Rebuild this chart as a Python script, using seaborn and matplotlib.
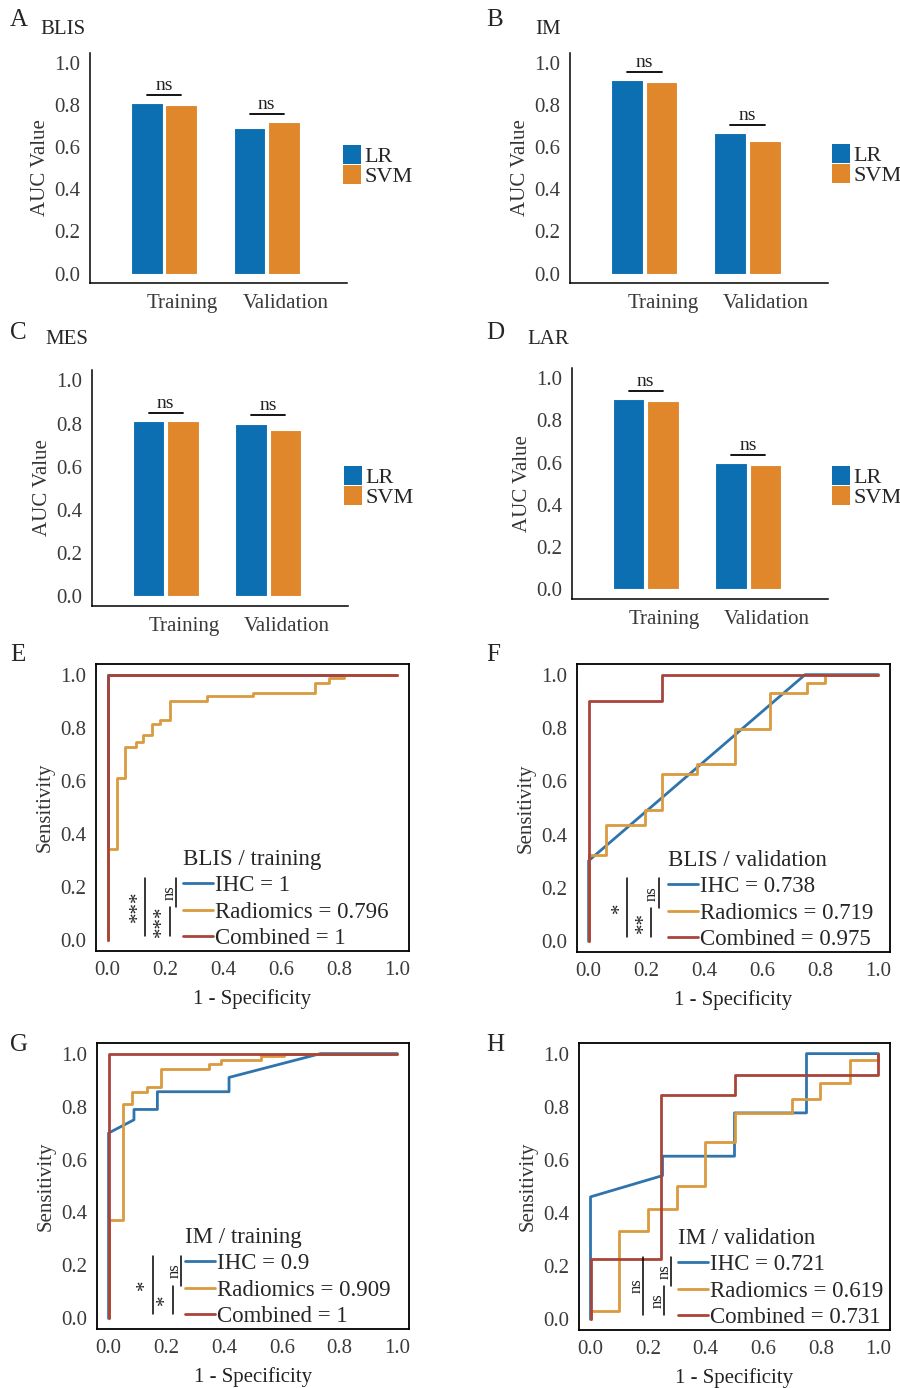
import numpy as np
import pandas as pd
import matplotlib
matplotlib.use("Agg")
import matplotlib.pyplot as plt
from matplotlib.patches import Patch
import seaborn as sns

# ---------------- data ----------------
sets = ["Training", "Validation"]
models = ["LR", "SVM"]

# AUC values of the bar panels (Training, Validation)
blis_lr, blis_svm = [0.81, 0.69], [0.80, 0.72]
im_lr, im_svm = [0.92, 0.67], [0.91, 0.63]
mes_lr, mes_svm = [0.81, 0.80], [0.81, 0.77]
lar_lr, lar_svm = [0.90, 0.60], [0.89, 0.59]

# ROC curves (1 - specificity, sensitivity)
roc_names = ["IHC", "Radiomics", "Combined"]

# E  BLIS / training
e_ihc_fpr, e_ihc_tpr = [0, 0, 1], [0, 1, 1]
e_rad_fpr = [0, 0, 0.032, 0.032, 0.059, 0.059, 0.099, 0.099, 0.122, 0.122, 0.152, 0.152,
             0.182, 0.182, 0.217, 0.217, 0.342, 0.342, 0.503, 0.503, 0.714, 0.714,
             0.763, 0.763, 0.815, 0.815, 1.0]
e_rad_tpr = [0, 0.344, 0.344, 0.611, 0.611, 0.727, 0.727, 0.745, 0.745, 0.774, 0.774, 0.813,
             0.813, 0.83, 0.83, 0.902, 0.902, 0.918, 0.918, 0.932, 0.932, 0.97,
             0.97, 0.986, 0.986, 1.0, 1.0]
e_comb_fpr, e_comb_tpr = [0, 0, 1], [0, 1, 1]
e_auc = ["1", "0.796", "1"]

# F  BLIS / validation
f_ihc_fpr, f_ihc_tpr = [0, 0, 0.747, 1], [0, 0.302, 1, 1]
f_rad_fpr = [0, 0, 0.06, 0.06, 0.195, 0.195, 0.252, 0.252, 0.375, 0.375, 0.505, 0.505,
             0.626, 0.626, 0.755, 0.755, 0.814, 0.814, 1.0]
f_rad_tpr = [0, 0.323, 0.323, 0.436, 0.436, 0.492, 0.492, 0.626, 0.626, 0.665, 0.665, 0.798,
             0.798, 0.93, 0.93, 0.967, 0.967, 1.0, 1.0]
f_comb_fpr, f_comb_tpr = [0, 0, 0.252, 0.252, 1], [0, 0.902, 0.902, 1, 1]
f_auc = ["0.738", "0.719", "0.975"]

# G  IM / training
g_ihc_fpr = [0, 0, 0.088, 0.088, 0.169, 0.169, 0.417, 0.417, 0.734, 1]
g_ihc_tpr = [0, 0.70, 0.75, 0.789, 0.789, 0.856, 0.856, 0.91, 1.0, 1.0]
g_rad_fpr = [0, 0, 0.051, 0.051, 0.082, 0.082, 0.134, 0.134, 0.18, 0.18, 0.348, 0.348,
             0.388, 0.388, 0.527, 0.527, 0.607, 0.607, 1.0]
g_rad_tpr = [0, 0.371, 0.371, 0.81, 0.81, 0.856, 0.856, 0.875, 0.875, 0.94, 0.94, 0.962,
             0.962, 0.975, 0.975, 0.99, 0.99, 1.0, 1.0]
g_comb_fpr, g_comb_tpr = [0, 0, 1], [0, 1, 1]
g_auc = ["0.9", "0.909", "1"]

# H  IM / validation
h_ihc_fpr = [0, 0, 0.25, 0.25, 0.5, 0.5, 0.75, 0.75, 1.0]
h_ihc_tpr = [0, 0.461, 0.541, 0.614, 0.614, 0.777, 0.777, 1.0, 1.0]
h_rad_fpr = [0, 0, 0.099, 0.099, 0.198, 0.198, 0.302, 0.302, 0.399, 0.399, 0.5, 0.5,
             0.698, 0.698, 0.797, 0.797, 0.901, 0.901, 1.0, 1.0]
h_rad_tpr = [0, 0.031, 0.031, 0.333, 0.333, 0.416, 0.416, 0.501, 0.501, 0.668, 0.668, 0.777,
             0.777, 0.83, 0.83, 0.89, 0.89, 0.975, 0.975, 1.0]
h_comb_fpr = [0, 0, 0.245, 0.245, 0.5, 0.5, 1.0, 1.0]
h_comb_tpr = [0, 0.229, 0.229, 0.846, 0.846, 0.921, 0.921, 1.0]
h_auc = ["0.721", "0.619", "0.731"]

# significance labels: IHC-Combined, Radiomics-Combined, IHC-Radiomics
e_sig = ["***", "***", "ns"]
f_sig = ["*", "**", "ns"]
g_sig = ["*", "*", "ns"]
h_sig = ["ns", "ns", "ns"]

# ---------------- style ----------------
sns.set_theme(style="white")
plt.rcParams["font.family"] = ["Liberation Serif", "DejaVu Serif"]
plt.rcParams["axes.linewidth"] = 1.1

bar_colors = {"LR": "#0B6FB2", "SVM": "#E0862B"}
roc_colors = {"IHC": "#2F74AD", "Radiomics": "#D99B3E", "Combined": "#A8443A"}
tick_col = "#3a3a3a"

W, H = 900, 1388
fig = plt.figure(figsize=(W / 100, H / 100), dpi=100)


def add_ax(l, t, r, b):
    return fig.add_axes([l / W, 1 - b / H, (r - l) / W, (b - t) / H])


def tag(x, y, letter, sub=None, sx=None, sy=None):
    fig.text(x / W, 1 - y / H, letter, fontsize=18, va="center", ha="left")
    if sub:
        fig.text(sx / W, 1 - sy / H, sub, fontsize=15, va="center", ha="left")


def bar_panel(box, lr, svm, leg_xy):
    ax = add_ax(*box)
    df = pd.DataFrame({"set": sets * 2,
                       "model": ["LR"] * len(sets) + ["SVM"] * len(sets),
                       "auc": lr + svm})
    sns.barplot(data=df, x="set", y="auc", hue="model", palette=bar_colors,
                saturation=1, width=0.67, gap=0.08, edgecolor="white", linewidth=0.8,
                legend=False, ax=ax)
    ax.set_ylim(-0.045, 1.048)
    ax.set_xlim(-0.72, 1.78)
    ax.set_yticks(np.arange(0, 1.01, 0.2))
    ax.set_yticklabels([f"{v:.1f}" for v in np.arange(0, 1.01, 0.2)])
    ax.set_xticks([i + 0.18 for i in range(len(sets))], sets)
    ax.tick_params(axis="both", length=4, width=1, color="black",
                   labelsize=15, labelcolor=tick_col, pad=3)
    ax.tick_params(axis="x", pad=4)
    for s in ["top", "right"]:
        ax.spines[s].set_visible(False)
    for s in ["left", "bottom"]:
        ax.spines[s].set_color("black")
    ax.set_xlabel("")
    ax.set_ylabel("AUC Value", fontsize=15, color="#333333", labelpad=3)
    # ns brackets between the two bars of each group
    for i in range(len(sets)):
        x0 = ax.containers[0][i].get_x() + ax.containers[0][i].get_width() / 2
        x1 = ax.containers[1][i].get_x() + ax.containers[1][i].get_width() / 2
        y = max(lr[i], svm[i]) + 0.038
        ax.plot([x0, x1], [y, y], color="black", lw=1.3)
        ax.text((x0 + x1) / 2, y + 0.004, "ns", ha="center", va="bottom",
                fontsize=14, color="#222222")
    handles = [Patch(facecolor=bar_colors[m], edgecolor="none") for m in models]
    ax.legend(handles, models, loc="upper left",
              bbox_to_anchor=(leg_xy[0] / W, 1 - leg_xy[1] / H),
              bbox_transform=fig.transFigure, frameon=False, borderpad=0,
              handlelength=0.82, handleheight=0.95, handletextpad=0.15,
              labelspacing=-0.12, fontsize=16)
    return ax


def roc_panel(box, curves, aucs, title, sig, sig_x, leg_x):
    ax = add_ax(*box)
    for name, (fpr, tpr) in zip(roc_names, curves):
        sns.lineplot(x=fpr, y=tpr, sort=False, estimator=None, color=roc_colors[name],
                     lw=2.0, ax=ax, label=f"{name} = {aucs[roc_names.index(name)]}")
    ax.set_xlim(-0.04, 1.04)
    ax.set_ylim(-0.04, 1.04)
    ticks = np.arange(0, 1.01, 0.2)
    ax.set_xticks(ticks, [f"{v:.1f}" for v in ticks])
    ax.set_yticks(ticks, [f"{v:.1f}" for v in ticks])
    ax.tick_params(axis="both", length=4, width=1, color="black",
                   labelsize=15, labelcolor=tick_col, pad=3)
    for s in ax.spines.values():
        s.set_color("black")
        s.set_linewidth(1.3)
    ax.set_xlabel("1 - Specificity", fontsize=15, color="#222222", labelpad=7)
    ax.set_ylabel("Sensitivity", fontsize=15, color="#333333", labelpad=4)
    ax.legend(title=title, loc="lower left", bbox_to_anchor=(leg_x, 0.006),
              frameon=False, borderpad=0, borderaxespad=0, fontsize=16.5,
              title_fontsize=16.5, handlelength=1.3, handletextpad=0.1,
              labelspacing=0.24, alignment="left")
    # significance brackets next to the legend rows
    top, mid, bot = 0.256, 0.152, 0.053
    spans = [(top, bot), (mid, bot), (top, mid)]
    for lab, (lx, tx), (y0, y1) in zip(sig, sig_x, spans):
        ax.plot([lx, lx], [y0, y1], transform=ax.transAxes, color="black", lw=1.1)
        fs = 12 if lab == "ns" else 15
        ax.text(tx, (y0 + y1) / 2, lab, rotation=90, ha="center", va="center",
                transform=ax.transAxes, fontsize=fs, color="#222222")
    return ax


# ---------------- panels ----------------
bar_panel((90, 53, 347, 283), blis_lr, blis_svm, (332, 134))
bar_panel((570, 53, 828, 283), im_lr, im_svm, (821, 133))
bar_panel((92, 370, 348, 606), mes_lr, mes_svm, (333, 455))
bar_panel((572, 368, 828, 599), lar_lr, lar_svm, (821, 455))

roc_panel((96, 664, 409, 951),
          [(e_ihc_fpr, e_ihc_tpr), (e_rad_fpr, e_rad_tpr), (e_comb_fpr, e_comb_tpr)],
          e_auc, "BLIS / training", e_sig,
          [(0.157, 0.136), (0.236, 0.214), (0.256, 0.234)], 0.278)
roc_panel((577, 664, 890, 952),
          [(f_ihc_fpr, f_ihc_tpr), (f_rad_fpr, f_rad_tpr), (f_comb_fpr, f_comb_tpr)],
          f_auc, "BLIS / validation", f_sig,
          [(0.159, 0.139), (0.236, 0.216), (0.262, 0.24)], 0.29)
roc_panel((97, 1043, 409, 1329),
          [(g_ihc_fpr, g_ihc_tpr), (g_rad_fpr, g_rad_tpr), (g_comb_fpr, g_comb_tpr)],
          g_auc, "IM / training", g_sig,
          [(0.178, 0.156), (0.242, 0.22), (0.27, 0.248)], 0.282)
roc_panel((579, 1043, 890, 1330),
          [(h_ihc_fpr, h_ihc_tpr), (h_rad_fpr, h_rad_tpr), (h_comb_fpr, h_comb_tpr)],
          h_auc, "IM / validation", h_sig,
          [(0.205, 0.186), (0.273, 0.254), (0.295, 0.276)], 0.318)

tag(10, 20, "A", "BLIS", 40, 30)
tag(486, 20, "B", "IM", 535, 30)
tag(10, 333, "C", "MES", 45, 340)
tag(486, 333, "D", "LAR", 527, 340)
tag(10, 655, "E")
tag(486, 655, "F")
tag(10, 1045, "G")
tag(486, 1045, "H")

fig.savefig("out.png", dpi=100, facecolor="white")
plt.close(fig)
